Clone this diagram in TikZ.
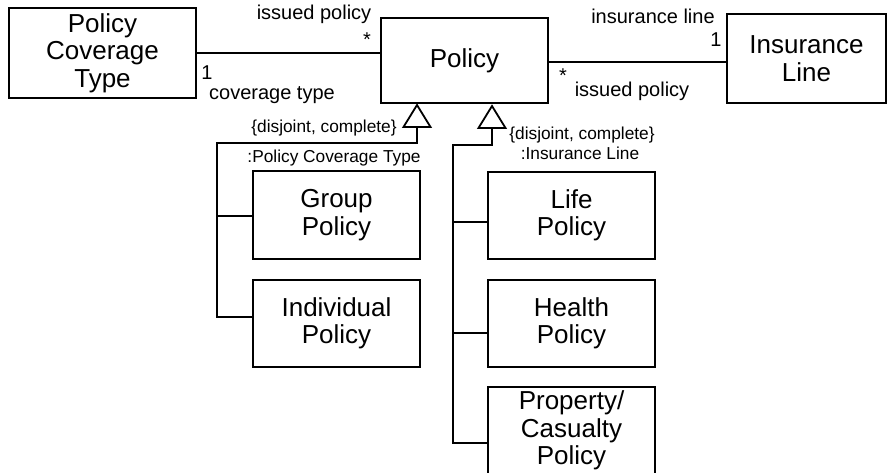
\documentclass[tikz,border=0pt]{standalone}
\usepackage{fontspec}
\setmainfont{Liberation Sans}
\begin{document}
\begin{tikzpicture}[x=1pt,y=-1pt,
  lw/.style={line width=1.8pt},
  box/.style={draw, lw, inner sep=0pt, align=center, minimum width=167pt, minimum height=87pt,
    font=\fontsize{26}{27.5}\selectfont},
  lab/.style={inner sep=0pt, anchor=base, font=\fontsize{20}{21}\selectfont},
  sml/.style={inner sep=0pt, anchor=base, font=\fontsize{17.3}{18}\selectfont},
  tri/.style={draw, lw, fill=white, line join=miter}
]
\useasboundingbox (0,0) rectangle (887,473);
% classes
\node[box, minimum width=187pt, minimum height=90pt] (pct) at (102.5,53) {Policy\\Coverage\\Type};
\node[box, minimum height=85pt] (policy) at (464.5,60.5) {Policy};
\node[box, minimum width=159pt, minimum height=89pt] (il) at (806.5,58.5) {Insurance\\Line};
\node[box, minimum height=88pt] (group) at (336.5,215) {Group\\Policy};
\node[box] (indiv) at (336.5,323.5) {Individual\\Policy};
\node[box] (life) at (571.5,215.5) {Life\\Policy};
\node[box] (health) at (571.5,323.5) {Health\\Policy};
\node[box] (prop) at (571.5,430.5) {Property/\\Casualty\\Policy};
% attach points
\coordinate (pe) at ([yshift=-1.5pt]policy.east);
\coordinate (gw) at ([yshift=-1pt]group.west);
\coordinate (iw) at ([yshift=6.5pt]indiv.west);
\coordinate (lw1) at ([yshift=-6.5pt]life.west);
\coordinate (hw) at ([yshift=-9.5pt]health.west);
\coordinate (pw) at ([yshift=-12.5pt]prop.west);
% associations
\draw[lw] (pct.east) -- (policy.west |- pct.east);
\draw[lw] (pe) -- (il.west |- pe);
\node[lab] (l1) at (314,20) {issued policy};
\node[lab] (l2) at (367,47) {*};
\node[lab] (l3) at (207,80) {1};
\node[lab] (l4) at (272,100) {coverage type};
\node[lab] (l5) at (653,23.5) {insurance line};
\node[lab] (l6) at (716,47) {1};
\node[lab] (l7) at (563,83) {*};
\node[lab] (l8) at (632,97) {issued policy};
% generalization 1
\coordinate (a1) at (417,105);
\coordinate (b1) at (417,127);
\coordinate (j1) at (217,143);
\draw[tri] (a1) -- (403.5,127) -- (430.5,127) -- cycle;
\draw[lw] (b1) |- (j1) |- (iw);
\draw[lw] (j1 |- gw) -- (gw);
\node[sml] (c1) at (324,133) {\{disjoint, complete\}};
\node[sml] (c2) at (334,163) {:Policy Coverage Type};
% generalization 2
\coordinate (a2) at (492,106);
\coordinate (b2) at (492,128);
\coordinate (j2) at (453,145);
\draw[tri] (a2) -- (478.5,128) -- (505.5,128) -- cycle;
\draw[lw] (b2) |- (j2) |- (pw);
\draw[lw] (j2 |- lw1) -- (lw1);
\draw[lw] (j2 |- hw) -- (hw);
\node[sml] (c3) at (582,140) {\{disjoint, complete\}};
\node[sml] (c4) at (580,160) {:Insurance Line};
\end{tikzpicture}
\end{document}
